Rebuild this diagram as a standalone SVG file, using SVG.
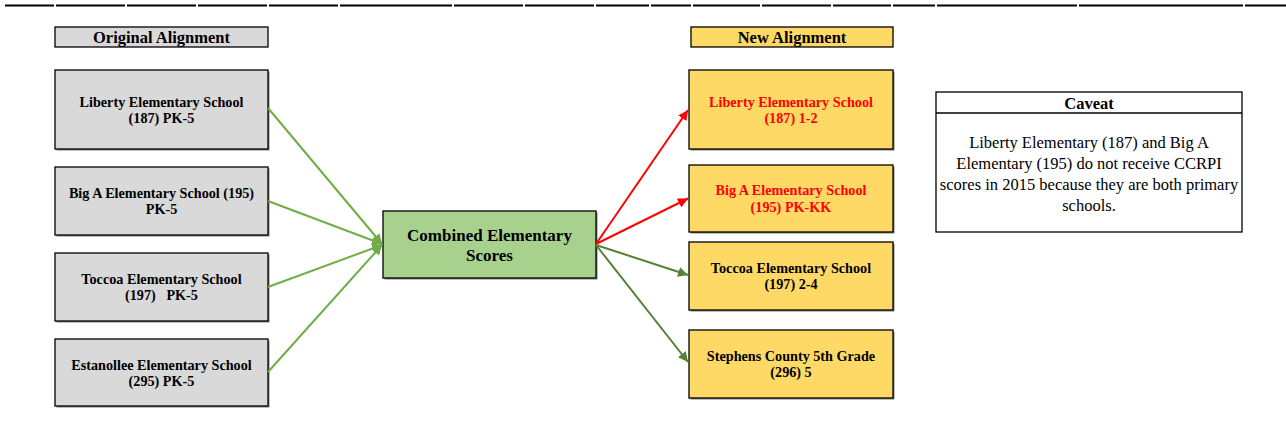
<svg xmlns="http://www.w3.org/2000/svg" width="1286" height="440" viewBox="0 0 1286 440">
<style>
text{font-family:"Liberation Serif","Times New Roman",serif;text-anchor:middle;fill:#000}
.b{font-weight:bold;font-size:14.2px}
.h{font-weight:bold;font-size:16.5px}
.c{font-size:16.5px}
.red{fill:#FF0000}
.box{stroke:#000;stroke-width:1.3}
.sh{fill:#7f7f7f}
.gray{fill:#D9D9D9}
.gold{fill:#FFD966}
.green{fill:#A9D18E}
.lg{stroke:#70AD47;stroke-width:2;fill:none}
.dg{stroke:#548235;stroke-width:2;fill:none}
.rd{stroke:#FF0000;stroke-width:2;fill:none}
</style>
<defs>
<marker id="ag" viewBox="0 0 10 10" refX="10" refY="5" markerWidth="5" markerHeight="5" orient="auto" markerUnits="strokeWidth"><path d="M0 0L10 5L0 10z" fill="#70AD47"/></marker>
<marker id="ad" viewBox="0 0 10 10" refX="10" refY="5" markerWidth="5" markerHeight="5" orient="auto" markerUnits="strokeWidth"><path d="M0 0L10 5L0 10z" fill="#548235"/></marker>
<marker id="ar" viewBox="0 0 10 10" refX="10" refY="5" markerWidth="5" markerHeight="5" orient="auto" markerUnits="strokeWidth"><path d="M0 0L10 5L0 10z" fill="#FF0000"/></marker>
</defs>
<rect width="1286" height="440" fill="#fff"/>
<g id="topline">
<path d="M5 5.5H54M56 5.5H125M127 5.5H196M198 5.5H267M269 5.5H338M340 5.5H452M454 5.5H523M525 5.5H594M596 5.5H649M651 5.5H691M693 5.5H760M762 5.5H831M833 5.5H891M893 5.5H935M937 5.5H1077M1079 5.5H1243M1245 5.5H1286" stroke="#000" stroke-width="2"/>
</g>
<g id="hdr-original">
<rect class="box gray" x="55" y="27" width="213" height="20"/>
<text class="h" x="161.5" y="43">Original Alignment</text>
</g>
<g id="hdr-new">
<rect class="box gold" x="691" y="27" width="202" height="20"/>
<text class="h" x="792" y="43">New Alignment</text>
</g>
<g id="orig-liberty">
<rect class="sh" x="56.5" y="71.5" width="213" height="79"/>
<rect class="box gray" x="55" y="70" width="213" height="79"/>
<text class="b" x="161.5" y="107">Liberty Elementary School</text>
<text class="b" x="161.5" y="123">(187) PK-5</text>
</g>
<g id="orig-biga">
<rect class="sh" x="56.5" y="168.5" width="213" height="68"/>
<rect class="box gray" x="55" y="167" width="213" height="68"/>
<text class="b" x="161.5" y="198">Big A Elementary School (195)</text>
<text class="b" x="161.5" y="214">PK-5</text>
</g>
<g id="orig-toccoa">
<rect class="sh" x="56.5" y="254.5" width="213" height="68"/>
<rect class="box gray" x="55" y="253" width="213" height="68"/>
<text class="b" x="161.5" y="284">Toccoa Elementary School</text>
<text class="b" x="161.5" y="300" xml:space="preserve">(197)   PK-5</text>
</g>
<g id="orig-estanollee">
<rect class="sh" x="56.5" y="340.5" width="213" height="67"/>
<rect class="box gray" x="55" y="339" width="213" height="67"/>
<text class="b" x="161.5" y="370">Estanollee Elementary School</text>
<text class="b" x="161.5" y="386">(295) PK-5</text>
</g>
<g id="combined">
<rect class="sh" x="384.5" y="212.5" width="213" height="67"/>
<rect class="box green" x="383" y="211" width="213" height="67"/>
<text x="489.5" y="241" style="font-weight:bold;font-size:17px">Combined Elementary</text>
<text x="489.5" y="261" style="font-weight:bold;font-size:17px">Scores</text>
</g>
<g id="new-liberty">
<rect class="sh" x="690.5" y="71.5" width="204" height="79"/>
<rect class="box gold" x="689" y="70" width="204" height="79"/>
<text class="b red" x="791" y="107">Liberty Elementary School</text>
<text class="b red" x="791" y="123">(187) 1-2</text>
</g>
<g id="new-biga">
<rect class="sh" x="690.5" y="166.5" width="204" height="67"/>
<rect class="box gold" x="689" y="165" width="204" height="67"/>
<text class="b red" x="791" y="195">Big A Elementary School</text>
<text class="b red" x="791" y="212">(195) PK-KK</text>
</g>
<g id="new-toccoa">
<rect class="sh" x="690.5" y="243.5" width="204" height="68"/>
<rect class="box gold" x="689" y="242" width="204" height="68"/>
<text class="b" x="791" y="273">Toccoa Elementary School</text>
<text class="b" x="791" y="289">(197) 2-4</text>
</g>
<g id="new-stephens">
<rect class="sh" x="690.5" y="331.5" width="204" height="68"/>
<rect class="box gold" x="689" y="330" width="204" height="68"/>
<text class="b" x="791" y="361">Stephens County 5th Grade</text>
<text class="b" x="791" y="377">(296) 5</text>
</g>
<g id="caveat">
<rect x="936" y="92" width="306" height="140" fill="#fff" stroke="#000" stroke-width="1.3"/>
<line x1="936" y1="113" x2="1242" y2="113" stroke="#000" stroke-width="1.3"/>
<text class="h" x="1089" y="108.5">Caveat</text>
<text class="c" x="1089" y="148">Liberty Elementary (187) and Big A</text>
<text class="c" x="1089" y="169">Elementary (195) do not receive CCRPI</text>
<text class="c" x="1089" y="190">scores in 2015 because they are both primary</text>
<text class="c" x="1089" y="211">schools.</text>
</g>
<g id="connectors">
<line class="lg" x1="268" y1="108" x2="382" y2="244" marker-end="url(#ag)"/>
<line class="lg" x1="268" y1="201" x2="382" y2="244" marker-end="url(#ag)"/>
<line class="lg" x1="268" y1="287" x2="382" y2="245" marker-end="url(#ag)"/>
<line class="lg" x1="268" y1="372" x2="382" y2="245" marker-end="url(#ag)"/>
<line class="rd" x1="596" y1="244" x2="688" y2="110" marker-end="url(#ar)"/>
<line class="rd" x1="596" y1="244" x2="688" y2="198.5" marker-end="url(#ar)"/>
<line class="dg" x1="596" y1="245" x2="688" y2="275" marker-end="url(#ad)"/>
<line class="dg" x1="596" y1="245" x2="688" y2="362" marker-end="url(#ad)"/>
</g>
</svg>
